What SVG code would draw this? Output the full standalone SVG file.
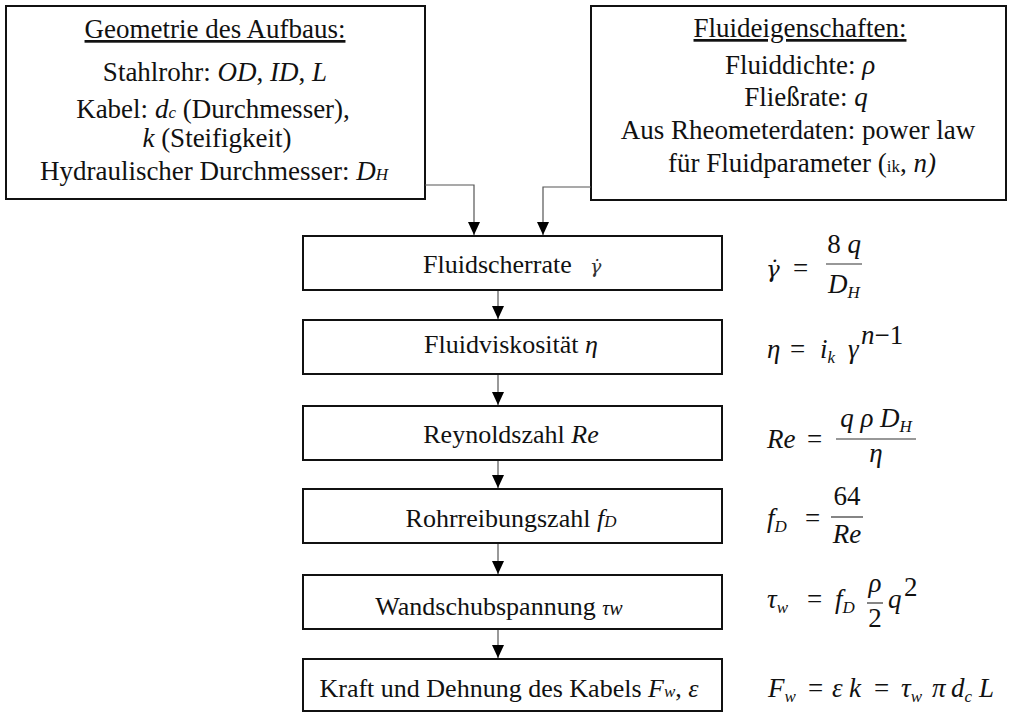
<svg xmlns="http://www.w3.org/2000/svg" width="1009" height="713" viewBox="0 0 1009 713">
<defs>
<marker id="ah" markerWidth="13" markerHeight="12" refX="13" refY="6" orient="auto" markerUnits="userSpaceOnUse">
<path d="M0,0 L13,6 L0,12 Z" fill="#000"/>
</marker>
<style>
.box{fill:#fff;stroke:#111;stroke-width:2}
.t{font-family:"Liberation Serif","Times New Roman",serif;font-size:26px;fill:#111}
.u{font-size:27px}
.c{text-anchor:middle}
.i{font-style:italic}
.s{font-size:17px}
.g{font-size:20px}
.m{font-family:"Liberation Serif","Times New Roman",serif;font-size:27px;fill:#111;font-style:italic}
.n{font-style:normal}
.dv{font-family:"DejaVu Serif",serif}
.conn{fill:none;stroke:#555;stroke-width:1.2;marker-end:url(#ah)}
.fl{stroke:#333;stroke-width:1.2}
</style>
</defs>
<rect width="1009" height="713" fill="#fff"/>

<g id="geometrie">
<rect class="box" x="6" y="6" width="419" height="193"/>
<text class="t u c" x="215" y="38" text-decoration="underline">Geometrie des Aufbaus:</text>
<text class="t u c" x="215" y="81">Stahlrohr: <tspan class="i">OD</tspan>, <tspan class="i">ID</tspan>, <tspan class="i">L</tspan></text>
<text class="t u c" x="213" y="118">Kabel: <tspan class="i">d</tspan><tspan class="i s">c</tspan> (Durchmesser),</text>
<text class="t u c" x="217" y="147"><tspan class="i">k</tspan> (Steifigkeit)</text>
<text class="t u c" x="214" y="180">Hydraulischer Durchmesser: <tspan class="i">D</tspan><tspan class="i s">H</tspan></text>
</g>

<g id="fluideigenschaften">
<rect class="box" x="591" y="6" width="415" height="194"/>
<text class="t u c" x="800" y="37" text-decoration="underline">Fluideigenschaften:</text>
<text class="t u c" x="800" y="74">Fluiddichte: <tspan class="i">ρ</tspan></text>
<text class="t u c" x="806" y="106">Fließrate: <tspan class="i">q</tspan></text>
<text class="t u c" x="798" y="139">Aus Rheometerdaten: power law</text>
<text class="t u c" x="802" y="172">für Fluidparameter (<tspan class="s">ik</tspan>, <tspan class="i">n)</tspan></text>
</g>

<g id="fluidscherrate">
<rect class="box" x="303" y="236" width="419" height="54"/>
<text class="t" x="423" y="273">Fluidscherrate</text>
<text class="t i dv" x="590" y="273" style="font-size:19px;fill:#333">γ̇</text>
</g>

<g id="fluidviskositaet">
<rect class="box" x="303" y="320" width="419" height="54"/>
<text class="t c" x="511" y="353">Fluidviskosität <tspan class="i">η</tspan></text>
</g>

<g id="reynoldszahl">
<rect class="box" x="303" y="406" width="419" height="54"/>
<text class="t c" x="511" y="443">Reynoldszahl <tspan class="i">Re</tspan></text>
</g>

<g id="rohrreibungszahl">
<rect class="box" x="303" y="489" width="419" height="54"/>
<text class="t c" x="511" y="527">Rohrreibungszahl <tspan class="i">f</tspan><tspan class="i s">D</tspan></text>
</g>

<g id="wandschubspannung">
<rect class="box" x="303" y="575" width="419" height="54"/>
<text class="t c" x="499" y="615">Wandschubspannung <tspan class="i g">τw</tspan></text>
</g>

<g id="kraft">
<rect class="box" x="303" y="659" width="419" height="52"/>
<text class="t c" x="509" y="697">Kraft und Dehnung des Kabels <tspan class="i">F</tspan><tspan class="i s">w</tspan>, <tspan class="i">ε</tspan></text>
</g>

<g id="connectors">
<polyline class="conn" points="425,185 474,185 474,235"/>
<polyline class="conn" points="591,187 543,187 543,235"/>
<line class="conn" x1="498" y1="291" x2="498" y2="319"/>
<line class="conn" x1="498" y1="375" x2="498" y2="405"/>
<line class="conn" x1="498" y1="461" x2="498" y2="488"/>
<line class="conn" x1="498" y1="544" x2="498" y2="574"/>
<line class="conn" x1="498" y1="630" x2="498" y2="658"/>
</g>

<g id="formeln">
<text class="m" x="766" y="277" style="font-family:'DejaVu Serif',serif;font-size:23px">γ̇</text>
<text class="m n" x="793" y="277">=</text>
<text class="m c" x="844" y="253"><tspan class="n">8</tspan> q</text>
<line class="fl" x1="826" y1="264" x2="862" y2="264"/>
<text class="m c" x="844" y="293">D<tspan class="s" dy="5">H</tspan></text>

<text class="m" x="767" y="358">η</text>
<text class="m n" x="790" y="358">=</text>
<text class="m" x="820" y="358">i<tspan class="s" dy="5">k</tspan></text>
<text class="m" x="848" y="358">γ</text>
<text class="m s" x="861" y="344">n<tspan class="n">−1</tspan></text>

<text class="m" x="767" y="448">Re</text>
<text class="m n" x="807" y="448">=</text>
<text class="m c" x="876" y="427">q ρ D<tspan class="s" dy="5">H</tspan></text>
<line class="fl" x1="836" y1="439" x2="916" y2="439"/>
<text class="m c" x="876" y="462">η</text>

<text class="m" x="767" y="527">f<tspan class="s" dy="5">D</tspan></text>
<text class="m n" x="805" y="527">=</text>
<text class="m n c" x="847" y="505">64</text>
<line class="fl" x1="831" y1="517" x2="863" y2="517"/>
<text class="m c" x="847" y="543">Re</text>

<text class="m" x="767" y="608">τ<tspan class="s" dy="5">w</tspan></text>
<text class="m n" x="807" y="608">=</text>
<text class="m" x="835" y="608">f<tspan class="s" dy="5">D</tspan></text>
<text class="m c" x="875" y="592">ρ</text>
<line class="fl" x1="867" y1="603" x2="883" y2="603"/>
<text class="m n c" x="875" y="627">2</text>
<text class="m" x="888" y="608">q</text>
<text class="m n s" x="904" y="596">2</text>

<text class="m" x="768" y="697">F<tspan class="s" dy="5">w</tspan></text>
<text class="m n" x="808" y="697">=</text>
<text class="m" x="832" y="697">ε</text>
<text class="m" x="849" y="697">k</text>
<text class="m n" x="874" y="697">=</text>
<text class="m" x="901" y="697">τ<tspan class="s" dy="5">w</tspan></text>
<text class="m" x="932" y="697">π</text>
<text class="m" x="951" y="697">d<tspan class="s" dy="5">c</tspan></text>
<text class="m" x="979" y="697">L</text>
</g>
</svg>
